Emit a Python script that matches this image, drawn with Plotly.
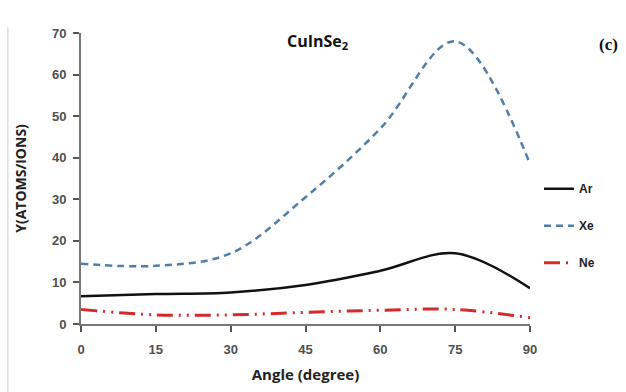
import plotly.graph_objects as go

angles = [0, 15, 30, 45, 60, 75, 90]
ar = [6.7, 7.2, 7.6, 9.4, 12.8, 17.0, 8.6]
xe = [14.5, 14.0, 17.0, 30.5, 47.0, 68.0, 38.5]
ne = [3.5, 2.2, 2.2, 2.8, 3.3, 3.5, 1.5]

x_ticks = [0, 15, 30, 45, 60, 75, 90]
y_ticks = [0, 10, 20, 30, 40, 50, 60, 70]

fig = go.Figure()
fig.add_trace(go.Scatter(x=angles, y=ar, name="Ar", mode="lines", line_shape="spline",
                         legendgroup="a",
                         line=dict(color="#111111", width=2.5)))
fig.add_trace(go.Scatter(x=angles, y=xe, name="Xe", mode="lines", line_shape="spline",
                         legendgroup="b",
                         line=dict(color="#4f7fa8", width=2.5, dash="7px,5px")))
fig.add_trace(go.Scatter(x=angles, y=ne, name="Ne", mode="lines", line_shape="spline",
                         legendgroup="c",
                         line=dict(color="#d42a2a", width=3, dash="16px,6px,2px,6px,2px,6px")))

axis_font = dict(family="Liberation Sans Narrow, Arial Narrow, sans-serif", size=13,
                 color="#505050", weight="bold")
fig.update_layout(
    width=626, height=392,
    margin=dict(l=81, r=96, t=33, b=68),
    plot_bgcolor="white", paper_bgcolor="white",
    showlegend=True,
    legend=dict(x=1.02, y=0.515, xanchor="left", yanchor="top",
                font=dict(family="Liberation Sans Narrow, sans-serif", size=12, color="#222222",
                          weight="bold"),
                tracegroupgap=18, bgcolor="rgba(0,0,0,0)"),
    xaxis=dict(range=[0, 90], tickvals=x_ticks, showgrid=False, zeroline=False,
               showline=True, linecolor="#777777", linewidth=2,
               ticks="outside", ticklen=6, tickwidth=1.5, tickcolor="#555555",
               tickfont=axis_font, ticklabelstandoff=6,
               title=dict(text="<b>Angle (degree)</b>", standoff=14,
                          font=dict(family="Open Sans, sans-serif", size=15, color="#222222"))),
    yaxis=dict(range=[0, 70], tickvals=y_ticks, showgrid=False, zeroline=False,
               showline=True, linecolor="#777777", linewidth=2,
               ticks="outside", ticklen=6, tickwidth=1.5, tickcolor="#555555",
               tickfont=axis_font, ticklabelstandoff=4,
               title=dict(text="<b>Y(ATOMS/IONS)</b>", standoff=22,
                          font=dict(family="Open Sans, sans-serif", size=14, color="#222222"))),
)
fig.add_annotation(text="<b>CuInSe<sub>2</sub></b>", x=0.527, y=0.97, xref="paper", yref="paper",
                   xanchor="center", yanchor="middle", showarrow=False,
                   font=dict(family="Open Sans, sans-serif", size=16, color="#111111"))
fig.add_annotation(text="<b>(c)</b>", x=1.175, y=0.96, xref="paper", yref="paper",
                   xanchor="center", yanchor="middle", showarrow=False,
                   font=dict(family="Liberation Serif, serif", size=17, color="#111111"))
fig.add_shape(type="line", xref="paper", yref="paper", x0=-0.163, x1=-0.163, y0=-0.25, y1=1.02,
              line=dict(color="#dddddd", width=1.5))
fig.write_html("out.html")
